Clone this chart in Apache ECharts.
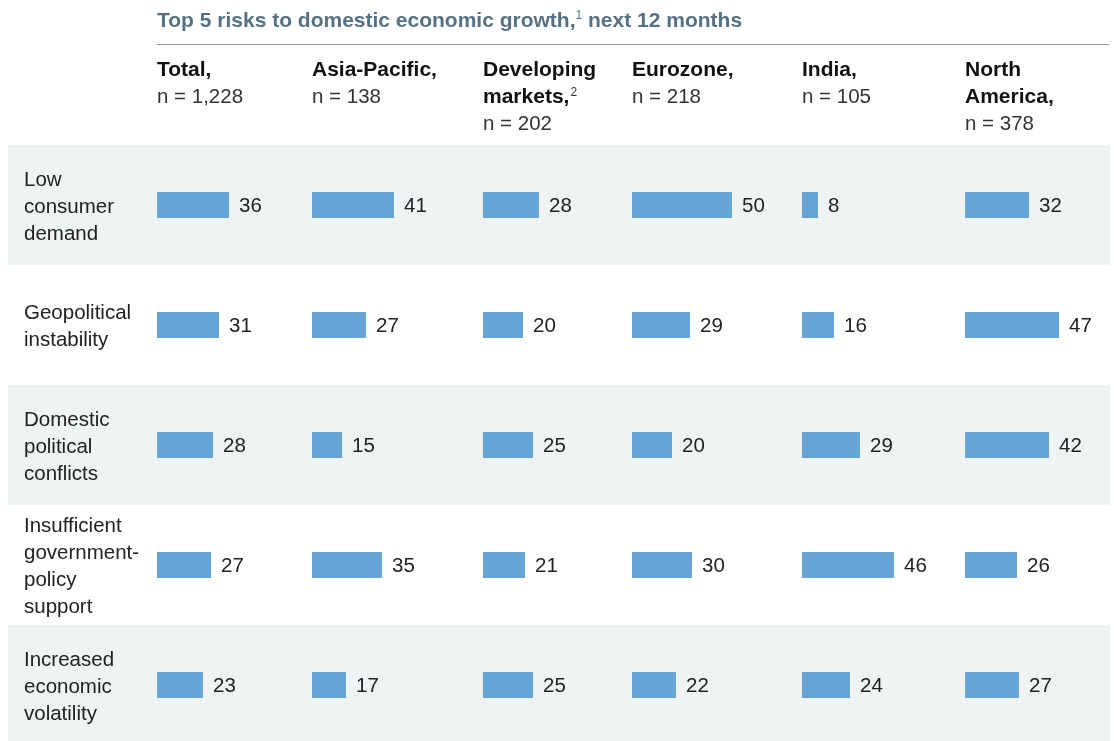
<!DOCTYPE html>
<html>
<head>
<meta charset="utf-8">
<script src="https://cdn.jsdelivr.net/npm/echarts@6/dist/echarts.min.js"></script>
<style>
  html, body { margin: 0; padding: 0; background: #fff; }
  #chart { width: 1114px; height: 741px; }
</style>
</head>
<body>
<div id="chart"></div>
<script>
// data
const risks = [
  'Low\nconsumer\ndemand',
  'Geopolitical\ninstability',
  'Domestic\npolitical\nconflicts',
  'Insufficient\ngovernment-\npolicy\nsupport',
  'Increased\neconomic\nvolatility'
]
const regions = ['Total', 'Asia-Pacific', 'Developing markets', 'Eurozone', 'India', 'North America']
const sampleSizes = ['1,228', '138', '202', '218', '105', '378']
const total = [36, 31, 28, 27, 23]
const asiaPacific = [41, 27, 15, 35, 17]
const developing = [28, 20, 25, 21, 25]
const eurozone = [50, 29, 20, 30, 22]
const india = [8, 16, 29, 46, 24]
const northAmerica = [32, 47, 42, 26, 27]
const seriesValues = [total, asiaPacific, developing, eurozone, india, northAmerica]

// layout
const FONT = '"Liberation Sans", Arial, sans-serif'
const colLeft = [157, 312, 483, 632, 802, 965]
const headerRich = [
  ['{b|Total,}', '{r|n = ' + sampleSizes[0] + '}'],
  ['{b|Asia-Pacific,}', '{r|n = ' + sampleSizes[1] + '}'],
  ['{b|Developing}', '{b|markets,}{s|2}', '{r|n = ' + sampleSizes[2] + '}'],
  ['{b|Eurozone,}', '{r|n = ' + sampleSizes[3] + '}'],
  ['{b|India,}', '{r|n = ' + sampleSizes[4] + '}'],
  ['{b|North}', '{b|America,}', '{r|n = ' + sampleSizes[5] + '}']
]
// graphic text (zrender) rich styles use fill, not color
const richStyles = {
  b: { fontFamily: FONT, fontSize: 21, fontWeight: 'bold', fill: '#111', lineHeight: 27 },
  r: { fontFamily: FONT, fontSize: 20.5, fill: '#333', lineHeight: 27 },
  s: { fontFamily: FONT, fontSize: 12, fill: '#333', lineHeight: 27, verticalAlign: 'top', padding: [3, 0, 0, 1] },
  tb: { fontFamily: FONT, fontSize: 21, fontWeight: 'bold', fill: '#557185', lineHeight: 26 },
  ts: { fontFamily: FONT, fontSize: 12, fill: '#557185', lineHeight: 26, verticalAlign: 'top', padding: [2, 0, 0, 0] }
}

const chart = echarts.init(document.getElementById('chart'))

// rows are 120px tall; the last band runs off the bottom edge, so don't let v6 squeeze grids
const grids = colLeft.map(x => ({ left: x, top: 145, width: 100, height: 600, outerBoundsMode: 'none' }))
// background band grid
grids.push({ left: 8, top: 145, width: 1102, height: 600, outerBoundsMode: 'none' })
// row label grid (nudged down a little to centre the text)
grids.push({ left: 8, top: 147, width: 1102, height: 600, outerBoundsMode: 'none' })
const BG = grids.length - 2
const LBL = grids.length - 1

const xAxes = grids.map((g, i) => ({
  type: 'value', gridIndex: i, min: 0, max: 50, show: false
}))
const yAxes = grids.map((g, i) => ({
  type: 'category', gridIndex: i, data: risks, inverse: true,
  axisLine: { show: false }, axisTick: { show: false },
  splitArea: { show: i === BG, areaStyle: { color: ['#eff3f4', '#ffffff'] } },
  axisLabel: i === LBL ? {
    show: true, inside: true, margin: 16, align: 'left',
    fontFamily: FONT, fontSize: 20.5, lineHeight: 27, color: '#222'
  } : { show: false }
}))

const series = seriesValues.map((vals, i) => ({
  name: regions[i],
  type: 'bar',
  xAxisIndex: i,
  yAxisIndex: i,
  data: vals,
  barWidth: 26,
  itemStyle: { color: '#66a4d7' },
  label: {
    show: true, position: 'right', distance: 10, offset: [0, 1],
    fontFamily: FONT, fontSize: 20.5, color: '#222'
  },
  silent: true,
  animation: false
}))

const graphics = [
  {
    type: 'text', left: 157, top: 8,
    style: { text: '{tb|Top 5 risks to domestic economic growth,}{ts|1}{tb| next 12 months}', rich: richStyles }
  },
  {
    type: 'line', shape: { x1: 157, y1: 44.5, x2: 1109, y2: 44.5 },
    style: { stroke: '#9a9a9a', lineWidth: 1 }
  }
]
headerRich.forEach((lines, i) => {
  graphics.push({
    type: 'text', left: colLeft[i], top: 60,
    style: { text: lines.join('\n'), rich: richStyles }
  })
})

chart.setOption({
  backgroundColor: '#fff',
  animation: false,
  grid: grids,
  xAxis: xAxes,
  yAxis: yAxes,
  series: series,
  graphic: graphics
})
</script>
</body>
</html>
